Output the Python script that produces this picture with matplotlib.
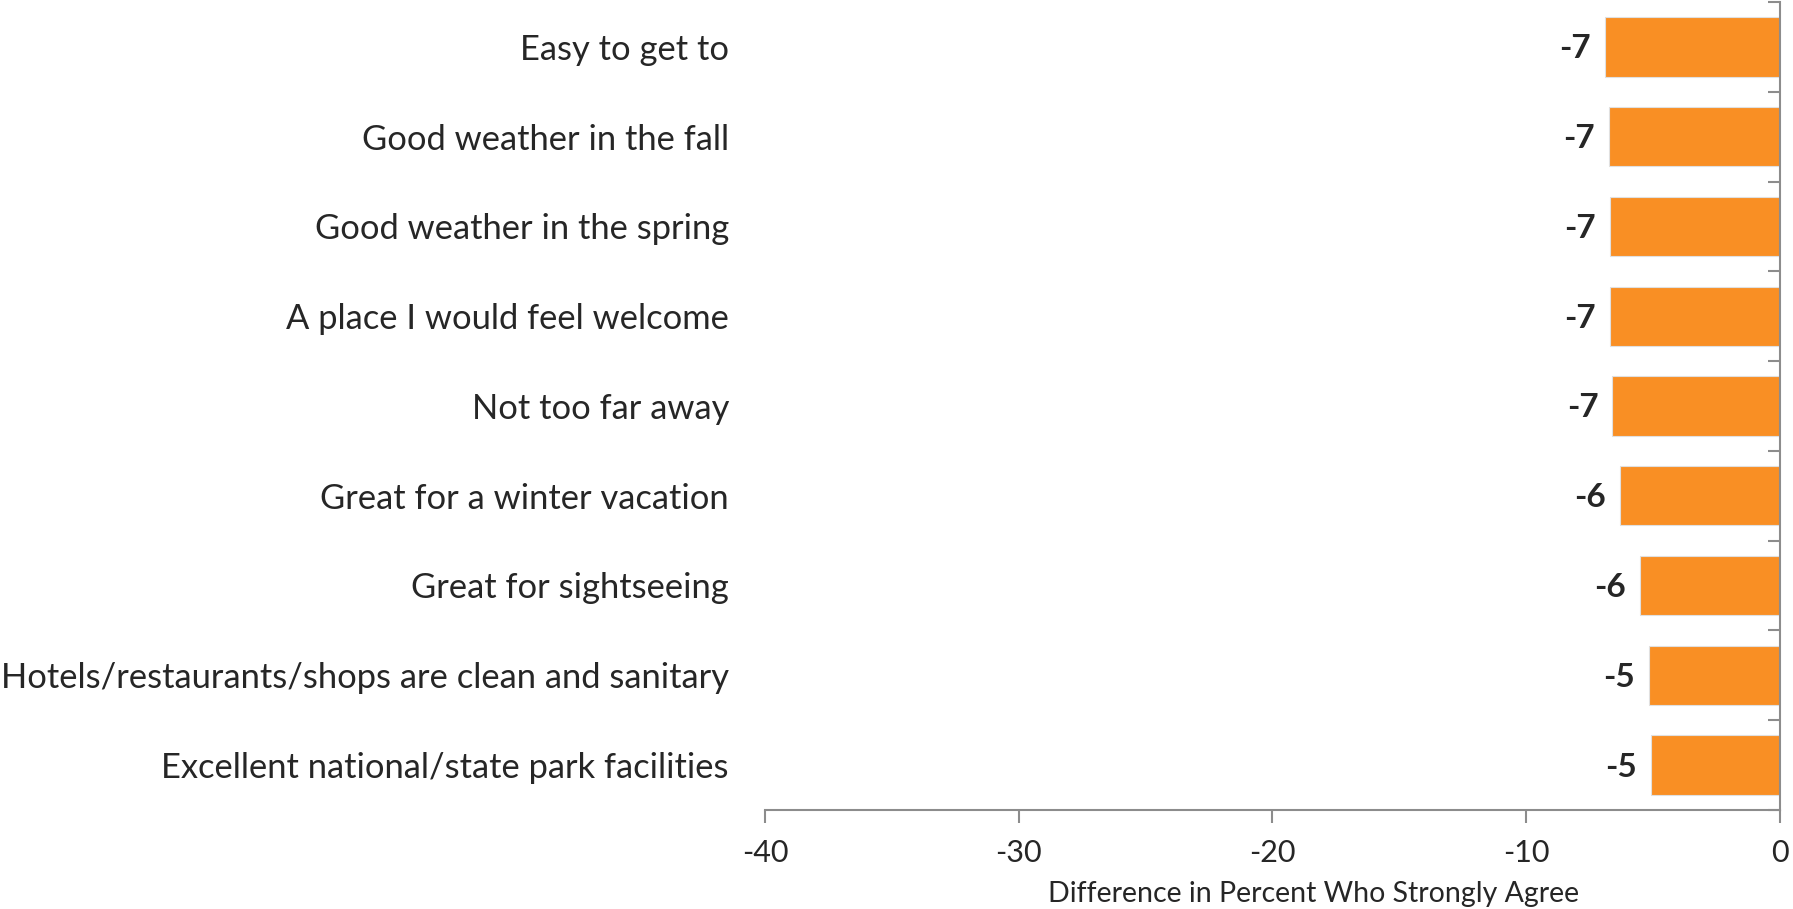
import matplotlib.pyplot as plt
import numpy as np

plt.rcParams['font.family'] = ['Lato', 'DejaVu Sans']

categories = [
    "Easy to get to",
    "Good weather in the fall",
    "Good weather in the spring",
    "A place I would feel welcome",
    "Not too far away",
    "Great for a winter vacation",
    "Great for sightseeing",
    "Hotels/restaurants/shops are clean and sanitary",
    "Excellent national/state park facilities",
]
values = [-6.9, -6.75, -6.7, -6.7, -6.6, -6.3, -5.5, -5.15, -5.1]
labels = ["-7", "-7", "-7", "-7", "-7", "-6", "-6", "-5", "-5"]
xticks = [-40, -30, -20, -10, 0]

text_color = "#262626"
axis_color = "#8c8c8c"
bar_color = "#F98F24"

fig = plt.figure(figsize=(17.93, 9.09), dpi=100)
ax = fig.add_axes([0.4267, 0.109, 0.9927 - 0.4267, 0.9978 - 0.109])

y = np.arange(len(categories))
ax.barh(y, values, height=0.66, color=bar_color, edgecolor="#e0e0e0", linewidth=0.8, zorder=2)

for yi, v, lab in zip(y, values, labels):
    ax.annotate(lab, (v, yi), xytext=(-14, -2), textcoords="offset pixels",
                ha="right", va="center", fontsize=24, fontweight="bold", color=text_color)

ax.set_xlim(-40, 0)
ax.set_ylim(len(categories) - 0.5, -0.5)

ax.set_yticks(y)
ax.set_yticklabels(categories, fontsize=24.8, color=text_color)
ax.tick_params(axis="y", which="major", length=0, pad=26)
for t in ax.get_yticklabels():
    t.set_y(t.get_position()[1])
ax.set_yticks(np.arange(len(categories) + 1) - 0.5, minor=True)
ax.tick_params(axis="y", which="minor", right=True, left=False, direction="in",
               length=9, width=1.5, color=axis_color)

ax.set_xticks(xticks)
ax.set_xticklabels([str(t) for t in xticks], fontsize=22, color=text_color)
ax.tick_params(axis="x", which="major", direction="out", length=9, width=1.5,
               color=axis_color, pad=12)
ax.set_xlabel("Difference in Percent Who Strongly Agree", fontsize=20.5,
              color=text_color, labelpad=10, x=0.54)

for side in ["top", "left"]:
    ax.spines[side].set_visible(False)
for side in ["bottom", "right"]:
    ax.spines[side].set_color(axis_color)
    ax.spines[side].set_linewidth(1.5)

fig.savefig("out.png", dpi=100)
